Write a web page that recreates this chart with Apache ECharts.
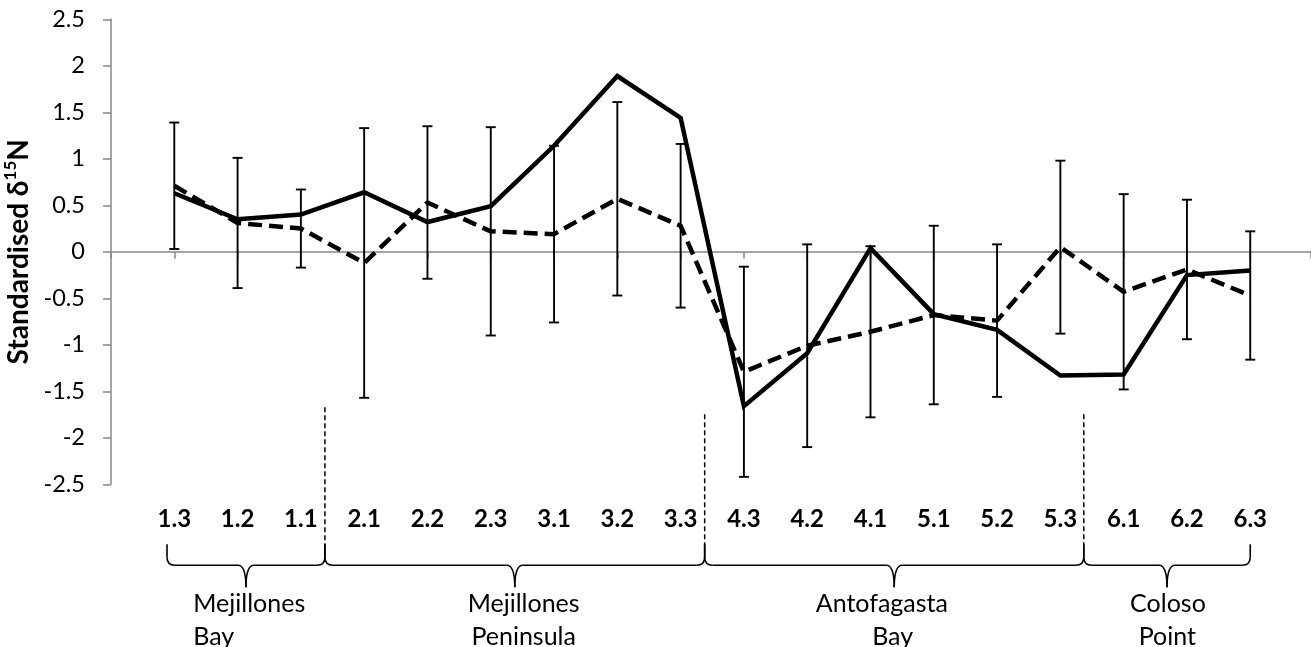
<!DOCTYPE html>
<html><head><meta charset="utf-8">
<script src="https://cdn.jsdelivr.net/npm/echarts@6/dist/echarts.min.js"></script>
<style>html,body{margin:0;padding:0;background:#fff}#c{width:1311px;height:647px}</style>
</head><body><div id="c"></div>
<script>
// ---- data ----
const categories = ['1.3','1.2','1.1','2.1','2.2','2.3','3.1','3.2','3.3','4.3','4.2','4.1','5.1','5.2','5.3','6.1','6.2','6.3'];
const solidValues = [0.63,0.35,0.40,0.64,0.32,0.49,1.14,1.89,1.44,-1.66,-1.09,0.04,-0.67,-0.84,-1.33,-1.32,-0.25,-0.20];
const dashedValues = [0.71,0.31,0.25,-0.12,0.53,0.22,0.19,0.57,0.28,-1.29,-1.01,-0.86,-0.68,-0.74,0.05,-0.43,-0.19,-0.47];
const dashedError = [0.68,0.70,0.42,1.45,0.82,1.12,0.95,1.04,0.88,1.13,1.09,0.92,0.96,0.82,0.93,1.05,0.75,0.69];
const regionLines = [['Mejillones','Bay'],['Mejillones','Peninsula'],['Antofagasta','Bay'],['Coloso','Point']];
const yTickMin = -2.5, yTickMax = 2.5, yTickStep = 0.5;
const yTitle = ['Standardised δ', '15', 'N'];

// ---- layout (axis units along x) ----
const braceBounds = [0.885, 3.38, 9.38, 15.37, 18.0];
const sepStartOffsets = [-77, -70, -70];
const labelAnchors = [
  [{x:1.30, align:'left'}, {x:1.30, align:'left'}],
  [{x:6.52, align:'center'}, {x:6.52, align:'center'}],
  [{x:12.18, align:'center'}, {x:12.35, align:'center'}],
  [{x:16.70, align:'center'}, {x:16.69, align:'center'}]
];

const FONT = 'Lato, "Open Sans", sans-serif';
const AX = '#878787';

const chart = echarts.init(document.getElementById('c'), null, {renderer:'canvas'});
const option = {
  animation: false,
  backgroundColor: '#fff',
  grid: {left: 111, right: 0, top: 19.3, bottom: 162.7, containLabel: false, outerBoundsMode: 'none'},
  xAxis: [
    {
      type: 'value', min: 0, max: 18.96, interval: 1,
      axisLine: {show: true, onZero: true, lineStyle: {color: AX, width: 1.5}},
      axisTick: {show: true, inside: false, length: 7, lineStyle: {color: AX, width: 1.5}},
      axisLabel: {show: false},
      splitLine: {show: false}
    },
    {
      type: 'value', min: 0, max: 18.96, interval: 1, position: 'bottom',
      axisLine: {show: false, onZero: false},
      axisTick: {show: false},
      splitLine: {show: false},
      axisLabel: {
        show: true, margin: 23, showMaxLabel: false, showMinLabel: false,
        fontFamily: FONT, fontSize: 24, fontWeight: 'bold', color: '#000',
        formatter: v => (Number.isInteger(v) && categories[v-1]) ? categories[v-1] : ''
      }
    }
  ],
  yAxis: {
    type: 'value', min: yTickMin, max: yTickMax, interval: yTickStep,
    axisLine: {show: true, onZero: false, lineStyle: {color: AX, width: 1.5}},
    axisTick: {show: true, inside: false, length: 8, lineStyle: {color: AX, width: 1.5}},
    splitLine: {show: false},
    axisLabel: {margin: 26, fontFamily: FONT, fontSize: 23.5, color: '#000'},
    name: '{b|' + yTitle[0] + '}{s|' + yTitle[1] + '}{b|' + yTitle[2] + '}',
    nameLocation: 'middle', nameRotate: 90, nameGap: 76,
    nameTextStyle: {
      rich: {
        b: {fontFamily: FONT, fontSize: 28, fontWeight: 'bold', color: '#000', lineHeight: 31, verticalAlign: 'bottom'},
        s: {fontFamily: FONT, fontSize: 17, fontWeight: 'bold', color: '#000', lineHeight: 31, verticalAlign: 'top'}
      }
    }
  },
  series: [
    {
      type: 'custom', xAxisIndex: 0, yAxisIndex: 0, z: 1,
      data: categories.map((c, i) => [i + 1, dashedValues[i] - dashedError[i], dashedValues[i] + dashedError[i]]),
      encode: {x: 0, y: [1, 2]},
      renderItem: function (params, api) {
        const x = api.value(0);
        const lo = api.coord([x, api.value(1)]);
        const hi = api.coord([x, api.value(2)]);
        const w = 5;
        const st = {stroke: '#000', lineWidth: 1.9};
        return {type: 'group', children: [
          {type: 'line', shape: {x1: lo[0], y1: lo[1], x2: hi[0], y2: hi[1]}, style: st},
          {type: 'line', shape: {x1: lo[0]-w, y1: lo[1], x2: lo[0]+w, y2: lo[1]}, style: st},
          {type: 'line', shape: {x1: hi[0]-w, y1: hi[1], x2: hi[0]+w, y2: hi[1]}, style: st}
        ]};
      }
    },
    {
      name: 'solid', type: 'line', xAxisIndex: 0, yAxisIndex: 0, z: 3,
      data: categories.map((c, i) => [i + 1, solidValues[i]]),
      symbol: 'none', lineStyle: {color: '#000', width: 4.5, join: 'miter'}
    },
    {
      name: 'dashed', type: 'line', xAxisIndex: 0, yAxisIndex: 0, z: 2,
      data: categories.map((c, i) => [i + 1, dashedValues[i]]),
      symbol: 'none', lineStyle: {color: '#000', width: 4.5, type: [14, 7]}
    }
  ]
};
chart.setOption(option);

// ---- braces, separators and region labels placed through the axes ----
function px(x, y) { return chart.convertToPixel({xAxisIndex: 0, yAxisIndex: 0}, [x, y]); }
const yB = px(0, yTickMin)[1];
const tip = yB + 60, h = yB + 81, nub = yB + 103, r = 8;
const st = {stroke: '#000', lineWidth: 1.6, fill: null};
const g = [];
function ln(x1, y1, x2, y2, s) { g.push({type: 'line', shape: {x1, y1, x2, y2}, style: s || st}); }
function qc(x1, y1, cx, cy, x2, y2) { g.push({type: 'bezierCurve', shape: {x1, y1, cpx1: cx, cpy1: cy, x2, y2}, style: st}); }
for (let k = 0; k < 3; k++) {
  const sx = px(braceBounds[k + 1], 0)[0];
  ln(sx, yB + sepStartOffsets[k], sx, tip, {stroke: '#000', lineWidth: 1.5, lineDash: [5, 3]});
}
for (let k = 0; k < 4; k++) {
  const xa = px(braceBounds[k], 0)[0], xb = px(braceBounds[k + 1], 0)[0], xm = (xa + xb) / 2;
  ln(xa, tip, xa, h - r);
  qc(xa, h - r, xa, h, xa + r, h);
  ln(xa + r, h, xm - r, h);
  qc(xm - r, h, xm, h, xm, nub);
  qc(xm, nub, xm, h, xm + r, h);
  ln(xm + r, h, xb - r, h);
  qc(xb - r, h, xb, h, xb, h - r);
  ln(xb, h - r, xb, tip);
  regionLines[k].forEach((t, j) => {
    const a = labelAnchors[k][j];
    g.push({type: 'text', x: px(a.x, 0)[0], y: yB + 120 + j * 33,
            style: {text: t, font: '25px ' + FONT, fill: '#000', align: a.align, verticalAlign: 'middle'}});
  });
}
chart.setOption({graphic: g});
</script>
</body></html>
